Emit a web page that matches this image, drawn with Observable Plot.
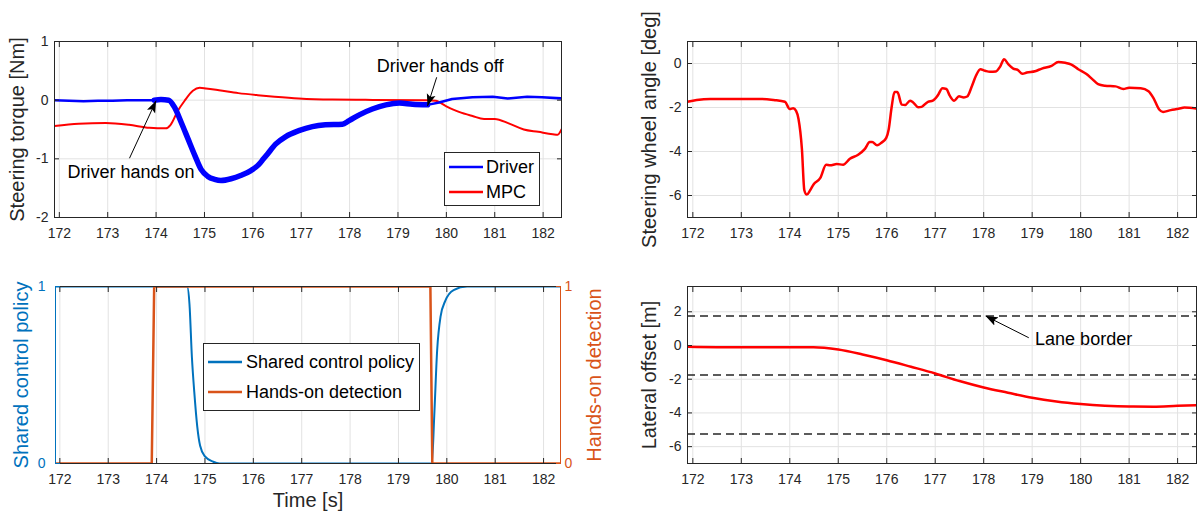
<!DOCTYPE html>
<html><head><meta charset="utf-8">
<script src="https://cdn.jsdelivr.net/npm/d3@7"></script>
<script src="https://cdn.jsdelivr.net/npm/@observablehq/plot@0.6"></script>
<style>
body{margin:0;background:#fff;}
#wrap{position:relative;width:1201px;height:519px;overflow:hidden;background:#fff;}
#wrap svg{position:absolute;left:0;top:0;}
</style></head><body><div id="wrap"></div>
<script>
// ---------- data ----------
const xTicks = [172,173,174,175,176,177,178,179,180,181,182];

// Steering torque [Nm] – driver
const driverT = [171.9,172.2,172.5,172.8,173.1,173.4,173.7,173.96,174.1,174.26,174.38,174.52,174.66,174.8,174.93,175.07,175.21,175.34,175.55,175.76,175.96,176.12,176.22,176.3,176.47,176.68,176.95,177.23,177.5,177.85,177.99,178.2,178.47,178.75,179.03,179.3,179.61,179.85,180.12,180.54,180.96,181.27,181.67,181.98,182.38];
const driverTorque = [0,-0.01,-0.02,-0.01,-0.01,0,0,0,0.01,0,-0.12,-0.38,-0.66,-0.94,-1.18,-1.3,-1.35,-1.37,-1.34,-1.28,-1.2,-1.1,-1.0,-0.92,-0.75,-0.62,-0.52,-0.45,-0.42,-0.41,-0.35,-0.25,-0.15,-0.08,-0.05,-0.07,-0.08,-0.04,0.02,0.05,0.06,0.03,0.06,0.05,0.03];
const driverHandsOn = [173.96, 179.61];
// Steering torque [Nm] – MPC
const mpcT = [171.9,172.4,172.96,173.44,173.86,174.2,174.3,174.45,174.59,174.76,174.9,175.03,175.3,175.7,176.1,176.45,176.95,177.64,178.33,179.58,179.78,179.99,180.26,180.54,180.78,181.0,181.3,181.6,181.9,182.2,182.3,182.38];
const mpcTorque = [-0.44,-0.4,-0.39,-0.42,-0.47,-0.48,-0.42,-0.18,-0.01,0.16,0.21,0.2,0.17,0.12,0.085,0.06,0.03,0.01,0.005,0,-0.01,-0.1,-0.2,-0.27,-0.32,-0.32,-0.4,-0.5,-0.54,-0.58,-0.59,-0.5];
const torqueTicks = [-2,-1,0,1];

// Steering wheel angle [deg]
const swaT = [171.89,172.08,172.36,172.9,173.4,173.67,173.9,174.0,174.07,174.13,174.18,174.25,174.3,174.35,174.42,174.49,174.63,174.75,174.83,174.97,175.1,175.24,175.41,175.55,175.65,175.7,175.8,175.89,175.99,176.04,176.1,176.16,176.22,176.31,176.38,176.48,176.54,176.65,176.72,176.85,176.95,177.05,177.15,177.23,177.3,177.39,177.49,177.59,177.66,177.76,177.84,177.93,178.03,178.13,178.25,178.34,178.42,178.51,178.61,178.7,178.8,178.89,179.06,179.2,179.4,179.54,179.68,179.81,179.95,180.12,180.24,180.36,180.5,180.72,180.88,181.0,181.24,181.4,181.5,181.62,181.7,181.86,182.02,182.14,182.39];
const swaDeg = [-1.74,-1.66,-1.61,-1.61,-1.61,-1.66,-1.74,-2.07,-2.03,-2.15,-2.52,-3.88,-5.76,-5.96,-5.76,-5.5,-5.2,-4.6,-4.63,-4.57,-4.6,-4.33,-4.15,-3.88,-3.57,-3.57,-3.72,-3.6,-3.38,-3.0,-2.0,-1.3,-1.3,-1.87,-1.89,-1.69,-1.76,-1.99,-1.97,-1.74,-1.69,-1.46,-1.13,-1.16,-1.46,-1.69,-1.49,-1.54,-1.5,-1.01,-0.56,-0.26,-0.33,-0.38,-0.36,-0.14,0.19,-0.04,-0.23,-0.29,-0.47,-0.41,-0.35,-0.23,-0.11,0.07,0.03,-0.05,-0.26,-0.48,-0.71,-0.94,-1.01,-1.04,-1.16,-1.1,-1.12,-1.26,-1.56,-2.09,-2.2,-2.12,-2.06,-2.0,-2.05];
const swaTicks = [-6,-4,-2,0];

// Shared control policy / hands-on detection
const policyT = [171.91,174.63,174.68,174.73,174.78,174.84,174.9,175.0,175.17,175.3,179.69,179.74,179.8,179.87,179.97,180.14,180.42,182.35];
const policyV = [1,1,0.9,0.6,0.4,0.21,0.1,0.04,0.01,0,0,0.27,0.64,0.83,0.92,0.98,1,1];
const detectT = [171.91,173.9,173.95,179.66,179.7,182.35];
const detectV = [0,0,1,1,0,0];
const binaryTicks = [0,1];

// Lateral offset [m]
const latT = [171.89,172.5,173.5,174.49,175.0,175.5,176.0,176.5,177.0,177.5,178.0,178.5,179.0,179.5,180.0,180.5,181.0,181.5,182.0,182.39];
const latM = [-0.08,-0.1,-0.1,-0.1,-0.24,-0.53,-0.87,-1.26,-1.66,-2.11,-2.49,-2.8,-3.1,-3.32,-3.47,-3.57,-3.62,-3.63,-3.58,-3.55];
const laneBorders = [1.75,-1.75,-5.25];
const latTicks = [-6,-4,-2,0,2];

// annotations
const torqueNotes = [
  {text:"Driver hands on", x:173.48, y:-1.23, x1:173.45, y1:-0.99, x2:174.0, y2:-0.01},
  {text:"Driver hands off", x:179.87, y:0.58, x1:179.8, y1:0.39, x2:179.61, y2:-0.1}
];
const laneNotes = [{text:"Lane border", x:179.06, y:0.36, x1:178.93, y1:0.46, x2:178.04, y2:1.75}];

const torqueLegend = ["Driver","MPC"];
const policyLegend = ["Shared control policy","Hands-on detection"];

// ---------- styling ----------
const W = 1201, H = 519;
const FONT = '"Liberation Sans", Arial, Helvetica, sans-serif';
const INK = "#262626", GRID = "#e2e2e2";
const BLUE = "#0000ff", RED = "#ff0000", POL = "#0072bd", DET = "#d95319";
const fmt = d => String(d);
const zip = (t, v) => t.map((d, i) => ({t: d, v: v[i]}));

const wrap = document.getElementById("wrap");

function panel({frame, xDomain, yDomain, yTicks, marks, yColor = INK, yPad = 6, rightAxis = null, label, labelDx, labelColor = INK}) {
  const axisMarks = [
    Plot.frame({stroke: INK, strokeWidth: 1}),
    Plot.axisX(xTicks, {tickSize: 0, tickPadding: 11, tickFormat: fmt, color: INK, label: null}),
    Plot.axisX(xTicks, {anchor: "bottom", tickSize: -5, tickFormat: () => "", color: INK, label: null}),
    Plot.axisX(xTicks, {anchor: "top", tickSize: -5, tickFormat: () => "", color: INK, label: null}),
    Plot.axisY(yTicks, {anchor: "left", tickSize: 0, tickPadding: yPad, tickFormat: fmt, color: yColor, label: null}),
    Plot.axisY(yTicks, {anchor: "left", tickSize: -5, tickFormat: () => "", color: yColor, label: null}),
    Plot.text([label], {frameAnchor: "left", textAnchor: "middle", rotate: -90, dx: labelDx, fontSize: 20, fill: labelColor})
  ];
  if (rightAxis) {
    axisMarks.push(
      Plot.axisY(rightAxis.ticks, {anchor: "right", tickSize: 0, tickPadding: rightAxis.pad, tickFormat: fmt, color: rightAxis.color, label: null}),
      Plot.axisY(rightAxis.ticks, {anchor: "right", tickSize: -5, tickFormat: () => "", color: rightAxis.color, label: null}),
      Plot.ruleX([xDomain[0]], {stroke: yColor}),
      Plot.ruleX([xDomain[1]], {stroke: rightAxis.color}),
      Plot.text([rightAxis.label], {frameAnchor: "right", textAnchor: "middle", rotate: -90, dx: rightAxis.labelDx, fontSize: 20, fill: rightAxis.color})
    );
  } else {
    axisMarks.push(Plot.axisY(yTicks, {anchor: "right", tickSize: -5, tickFormat: () => "", color: INK, label: null}));
  }
  const svg = Plot.plot({
    width: W, height: H,
    marginLeft: frame.left, marginRight: W - frame.right, marginTop: frame.top, marginBottom: H - frame.bottom,
    x: {domain: xDomain, label: null},
    y: {domain: yDomain, label: null},
    style: {fontFamily: FONT, fontSize: "14px", color: INK, background: "transparent", overflow: "visible"},
    marks: [
      Plot.gridX(xTicks, {stroke: GRID, strokeOpacity: 1}),
      Plot.gridY(yTicks, {stroke: GRID, strokeOpacity: 1}),
      ...marks,
      ...axisMarks
    ]
  });
  // filled arrow heads
  svg.querySelectorAll("marker").forEach(m => {
    m.setAttribute("viewBox", "-12 -5 13 10");
    m.setAttribute("markerWidth", 13);
    m.setAttribute("markerHeight", 10);
    m.setAttribute("markerUnits", "userSpaceOnUse");
    m.setAttribute("fill", "#000");
    m.setAttribute("stroke", "none");
    const p = m.querySelector("path");
    if (p) p.setAttribute("d", "M-12,-4.5L0,0L-12,4.5L-9.5,0Z");
  });
  wrap.appendChild(svg);
  return svg;
}

function noteMarks(notes, anchor) {
  return [
    Plot.link(notes, {x1: "x1", y1: "y1", x2: "x2", y2: "y2", stroke: "#000", strokeWidth: 1, markerEnd: "arrow"}),
    Plot.text(notes, {x: "x", y: "y", text: "text", fontSize: 18, fill: "#000", textAnchor: anchor})
  ];
}

// ---------- top-left: steering torque ----------
const driverRows = zip(driverT, driverTorque);
const driverThin = driverRows.filter(d => d.t <= driverHandsOn[0] || d.t >= driverHandsOn[1])
  .map(d => ({...d, seg: d.t <= driverHandsOn[0] ? "a" : "b"}));
const driverThick = driverRows.filter(d => d.t >= driverHandsOn[0] && d.t <= driverHandsOn[1]);
panel({
  frame: {left: 54, right: 561, top: 41, bottom: 217},
  xDomain: [171.9, 182.38], yDomain: [-2, 1], yTicks: torqueTicks,
  label: "Steering torque [Nm]", labelDx: -37,
  marks: [
    Plot.line(zip(mpcT, mpcTorque), {x: "t", y: "v", stroke: RED, strokeWidth: 2, curve: "monotone-x", clip: true}),
    Plot.line(driverThin, {x: "t", y: "v", z: "seg", stroke: BLUE, strokeWidth: 2.5, clip: true}),
    Plot.line(driverThick, {x: "t", y: "v", stroke: BLUE, strokeWidth: 5.5, curve: "monotone-x", clip: true}),
    ...noteMarks(torqueNotes, "middle")
  ]
});

// ---------- top-right: steering wheel angle ----------
panel({
  frame: {left: 687, right: 1196, top: 41, bottom: 217},
  xDomain: [171.89, 182.39], yDomain: [-7, 1], yTicks: swaTicks,
  label: "Steering wheel angle [deg]", labelDx: -37.5,
  marks: [
    Plot.line(zip(swaT, swaDeg), {x: "t", y: "v", stroke: RED, strokeWidth: 2.5, curve: "monotone-x", clip: true})
  ]
});

// ---------- bottom-left: policy & detection ----------
panel({
  frame: {left: 55, right: 560, top: 286, bottom: 463},
  xDomain: [171.91, 182.35], yDomain: [0, 1], yTicks: binaryTicks,
  yColor: POL, yPad: 10,
  label: "Shared control policy", labelDx: -33.5, labelColor: POL,
  rightAxis: {ticks: binaryTicks, pad: 4, color: DET, label: "Hands-on detection", labelDx: 34.5},
  marks: [
    Plot.line(zip(policyT, policyV), {x: "t", y: "v", stroke: POL, strokeWidth: 2, curve: "monotone-x", clip: true}),
    Plot.line(zip(detectT, detectV), {x: "t", y: "v", stroke: DET, strokeWidth: 2.5, clip: true}),
    Plot.text(["Time [s]"], {frameAnchor: "bottom", dy: 43, fontSize: 20, fill: INK})
  ]
});

// ---------- bottom-right: lateral offset ----------
panel({
  frame: {left: 687, right: 1196, top: 286, bottom: 463},
  xDomain: [171.89, 182.39], yDomain: [-7, 3.5], yTicks: latTicks,
  label: "Lateral offset [m]", labelDx: -37.5,
  marks: [
    Plot.ruleY(laneBorders, {stroke: INK, strokeWidth: 1.5, strokeDasharray: "8,5"}),
    Plot.line(zip(latT, latM), {x: "t", y: "v", stroke: RED, strokeWidth: 2.5, curve: "monotone-x", clip: true}),
    ...noteMarks(laneNotes, "start")
  ]
});

// ---------- legends ----------
function legend({box, items, colors, widths, rows, lineX, textX}) {
  const svg = d3.create("svg").attr("width", W).attr("height", H)
    .style("position", "absolute").style("left", 0).style("top", 0)
    .style("font-family", FONT);
  svg.append("rect").attr("x", box[0] + 0.5).attr("y", box[1] + 0.5)
    .attr("width", box[2] - box[0]).attr("height", box[3] - box[1])
    .attr("fill", "#fff").attr("stroke", INK).attr("stroke-width", 1);
  items.forEach((name, i) => {
    svg.append("line").attr("x1", lineX[0]).attr("x2", lineX[1]).attr("y1", rows[i]).attr("y2", rows[i])
      .attr("stroke", colors[i]).attr("stroke-width", widths[i]);
    svg.append("text").attr("x", textX).attr("y", rows[i]).attr("dy", "0.35em")
      .attr("font-size", 18).attr("fill", "#000").text(name);
  });
  wrap.appendChild(svg.node());
}
legend({box: [444, 152, 539, 205], items: torqueLegend, colors: [BLUE, RED], widths: [2.5, 2.5],
  rows: [167, 192], lineX: [449, 483], textX: 486});
legend({box: [203, 343, 419, 410], items: policyLegend, colors: [POL, DET], widths: [2.5, 2.5],
  rows: [362, 392], lineX: [208, 242], textX: 246});
</script></body></html>
